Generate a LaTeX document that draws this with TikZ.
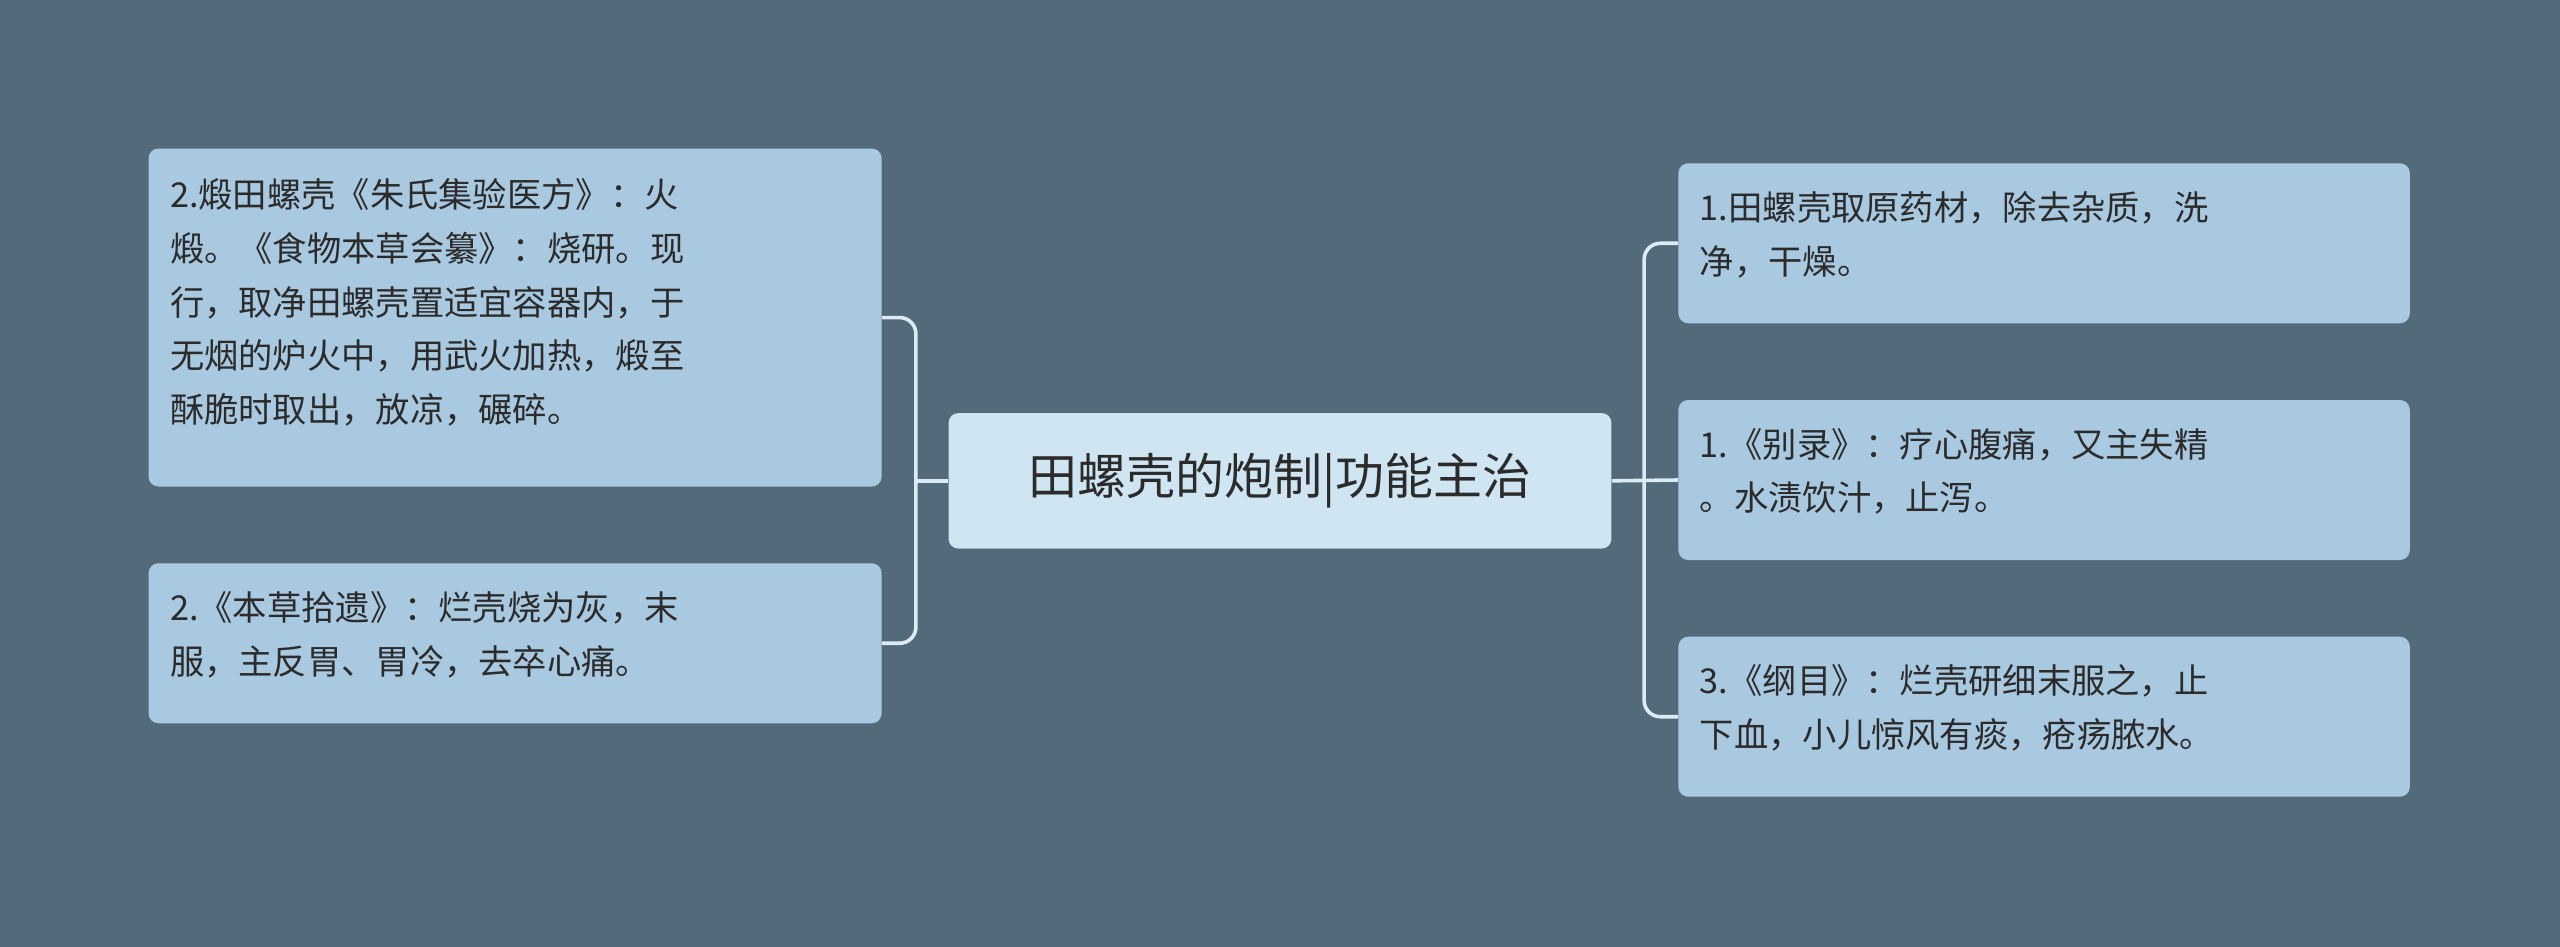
\documentclass[tikz,border=0pt]{standalone}
\usepackage{fontspec}
\newfontfamily\cjk{Noto Sans CJK SC}
\definecolor{bg}{HTML}{526A79}
\definecolor{leaf}{HTML}{A9C9E0}
\definecolor{root}{HTML}{CFE5F2}
\definecolor{ln}{HTML}{DDEBF4}
\definecolor{tx}{HTML}{2B2B2B}
\begin{document}
\begin{tikzpicture}[x=1pt,y=-1pt,
  leafbox/.style={fill=leaf,rounded corners=6pt,draw=none},
  leaftext/.style={anchor=north west,align=left,inner sep=0pt,font=\cjk\fontsize{21}{33}\selectfont,text=tx},
  conn/.style={draw=ln,line width=2.2pt,rounded corners=10pt}]
\fill[bg] (0,0) rectangle (1568,580);
\useasboundingbox (0,0) rectangle (1568,580);
% root
\node[fill=root,rounded corners=6pt,minimum width=406pt,minimum height=83pt,inner sep=0pt,font=\cjk\fontsize{30}{36}\selectfont,text=tx] (r) at (784,294.5) {田螺壳的炮制|功能主治};
% left boxes
\node[leafbox,minimum width=449pt,minimum height=207pt,inner sep=0pt] (l1) at (315.5,194.5) {};
\node[leaftext] at (104,109) {2.煅田螺壳《朱氏集验医方》：火\\煅。《食物本草会纂》：烧研。现\\行，取净田螺壳置适宜容器内，于\\无烟的炉火中，用武火加热，煅至\\酥脆时取出，放凉，碾碎。};
\node[leafbox,minimum width=449pt,minimum height=98pt,inner sep=0pt] (l2) at (315.5,394) {};
\node[leaftext] at (104,362) {2.《本草拾遗》：烂壳烧为灰，末\\服，主反胃、胃冷，去卒心痛。};
% right boxes
\node[leafbox,minimum width=448pt,minimum height=98pt,inner sep=0pt] (q1) at (1252,149) {};
\node[leaftext] at (1041,117) {1.田螺壳取原药材，除去杂质，洗\\净，干燥。};
\node[leafbox,minimum width=448pt,minimum height=98pt,inner sep=0pt] (q2) at (1252,294) {};
\node[leaftext] at (1041,262) {1.《别录》：疗心腹痛，又主失精\\。水渍饮汁，止泻。};
\node[leafbox,minimum width=448pt,minimum height=98pt,inner sep=0pt] (q3) at (1252,439) {};
\node[leaftext] at (1041,407) {3.《纲目》：烂壳研细末服之，止\\下血，小儿惊风有痰，疮疡脓水。};
% connectors
\coordinate (jl) at (561,294.5);
\coordinate (jr) at (1007,294.5);
\draw[conn] (r.west) -- (jl);
\draw[conn] (jl) |- (l1.east);
\draw[conn] (jl) |- (l2.east);
\draw[conn] (r.east) -- (q2.west);
\draw[conn] (jr) |- (q1.west);
\draw[conn] (jr) |- (q3.west);
\end{tikzpicture}
\end{document}
